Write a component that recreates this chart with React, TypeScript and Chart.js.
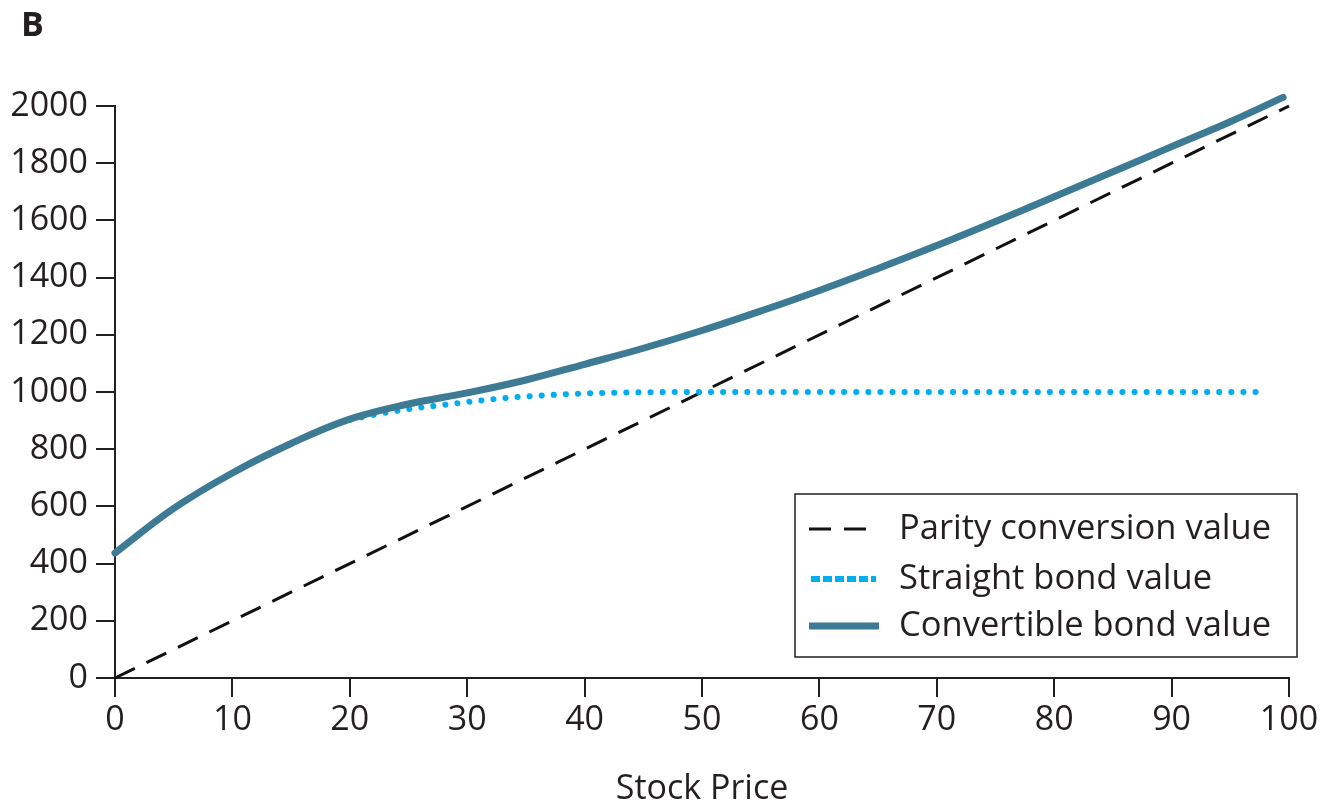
import React, { useEffect, useRef } from "react";
import { Chart, registerables } from "chart.js";

Chart.register(...registerables);

const panelLabel = "B";
const xAxisTitle = "Stock Price";
const seriesNames = ["Parity conversion value", "Straight bond value", "Convertible bond value"];

const parityPrice = [0, 100];
const parityValue = [0, 2000];

const straightPrice = [20, 22, 25, 28, 30, 33, 36, 40, 45, 50, 60, 70, 80, 90, 98];
const straightValue = [902, 920, 940, 955, 965, 978, 987, 995, 999, 1000, 1000, 1000, 1000, 1000, 1000];

const convertiblePrice = [0, 5, 10, 15, 20, 25, 30, 35, 40, 45, 50, 55, 60, 65, 70, 75, 80, 85, 90, 95, 99.5];
const convertibleValue = [437, 593, 717, 820, 905, 958, 997, 1042, 1097, 1153, 1215, 1283, 1355, 1432, 1512, 1596, 1683, 1770, 1858, 1945, 2030];

const xTicksMin = 0;
const xTicksMax = 100;
const xTickStep = 10;
const yTicksMin = 0;
const yTicksMax = 2000;
const yTickStep = 200;

const FONT = "'Open Sans', 'Noto Sans', sans-serif";
const FONT_SIZE = 34;
const TEXT = "#231f20";
const PARITY_COLOR = "#111111";
const STRAIGHT_COLOR = "#00aeef";
const CONV_COLOR = "#3d7a93";

const zip = (xs: number[], ys: number[]) => xs.map((x, i) => ({ x, y: ys[i] }));

const boxLegend = {
  id: "boxLegend",
  afterDraw(chart: any) {
    const { ctx, chartArea } = chart;
    const left = chartArea.right - 494;
    const top = chartArea.bottom - 184;
    const w = 502;
    const h = 163;
    ctx.save();
    ctx.strokeStyle = "#231f20";
    ctx.lineWidth = 1.5;
    ctx.strokeRect(left, top, w, h);
    const rows = [top + 35, top + 85, top + 132];
    const sx0 = left + 14;
    const sx1 = left + 84;
    ctx.beginPath();
    ctx.setLineDash([22, 13]);
    ctx.lineCap = "butt";
    ctx.lineWidth = 3;
    ctx.strokeStyle = PARITY_COLOR;
    ctx.moveTo(sx0, rows[0]);
    ctx.lineTo(sx1, rows[0]);
    ctx.stroke();
    ctx.beginPath();
    ctx.setLineDash([9, 3]);
    ctx.lineWidth = 6;
    ctx.strokeStyle = STRAIGHT_COLOR;
    ctx.moveTo(sx0 + 2, rows[1]);
    ctx.lineTo(sx1 - 3, rows[1]);
    ctx.stroke();
    ctx.beginPath();
    ctx.setLineDash([]);
    ctx.lineWidth = 7;
    ctx.strokeStyle = CONV_COLOR;
    ctx.moveTo(sx0, rows[2]);
    ctx.lineTo(sx1, rows[2]);
    ctx.stroke();
    ctx.fillStyle = TEXT;
    ctx.font = `${FONT_SIZE + 0.5}px ${FONT}`;
    ctx.textBaseline = "middle";
    ctx.textAlign = "left";
    seriesNames.forEach((n, i) => ctx.fillText(n, left + 104, rows[i]));
    ctx.restore();
  },
};

export default function App() {
  const ref = useRef<HTMLCanvasElement | null>(null);
  useEffect(() => {
    if (!ref.current) return;
    const chart = new Chart(ref.current, {
      type: "line",
      data: {
        datasets: [
          {
            label: seriesNames[0],
            data: zip(parityPrice, parityValue),
            borderColor: PARITY_COLOR,
            borderWidth: 3,
            borderDash: [22, 13],
            pointRadius: 0,
            clip: false,
            order: 2,
          },
          {
            label: seriesNames[1],
            data: zip(straightPrice, straightValue),
            borderColor: STRAIGHT_COLOR,
            borderWidth: 6,
            borderDash: [0.1, 12],
            borderCapStyle: "round",
            cubicInterpolationMode: "monotone",
            pointRadius: 0,
            clip: false,
            order: 1,
          },
          {
            label: seriesNames[2],
            data: zip(convertiblePrice, convertibleValue),
            borderColor: CONV_COLOR,
            borderWidth: 7,
            borderCapStyle: "round",
            tension: 0.4,
            pointRadius: 0,
            clip: false,
            order: 0,
          },
        ],
      },
      options: {
        animation: false,
        responsive: true,
        maintainAspectRatio: false,
        layout: { padding: { top: 106, right: 35, left: 0, bottom: 0 } },
        plugins: {
          legend: { display: false },
          tooltip: { enabled: false },
        },
        scales: {
          x: {
            type: "linear",
            min: xTicksMin,
            max: xTicksMax,
            ticks: {
              stepSize: xTickStep,
              color: TEXT,
              font: { family: FONT, size: FONT_SIZE },
              padding: 3,
              maxRotation: 0,
            },
            grid: { drawOnChartArea: false, drawTicks: true, tickLength: 19, color: "#231f20", lineWidth: 2 },
            border: { display: true, color: "#231f20", width: 2 },
            title: {
              display: true,
              text: xAxisTitle,
              color: TEXT,
              font: { family: FONT, size: FONT_SIZE },
              padding: { top: 10, bottom: -7 },
            },
            afterFit: (s: any) => {
              s.height = 125;
            },
          },
          y: {
            type: "linear",
            min: yTicksMin,
            max: yTicksMax,
            ticks: {
              stepSize: yTickStep,
              color: TEXT,
              font: { family: FONT, size: FONT_SIZE },
              padding: 8,
              callback: (v: any) => String(v),
            },
            grid: { drawOnChartArea: false, drawTicks: true, tickLength: 19, color: "#231f20", lineWidth: 2 },
            border: { display: true, color: "#231f20", width: 2 },
            afterFit: (s: any) => {
              s.width = 115;
            },
          },
        },
      },
      plugins: [boxLegend],
    });
    return () => chart.destroy();
  }, []);

  return (
    <div style={{ position: "absolute", left: 0, top: 0, width: 1324, height: 803, background: "#fff" }}>
      <div
        style={{
          position: "absolute",
          left: 21,
          top: 0,
          fontFamily: FONT,
          fontWeight: 700,
          fontSize: FONT_SIZE,
          lineHeight: "47px",
          color: TEXT,
        }}
      >
        {panelLabel}
      </div>
      <canvas ref={ref} />
    </div>
  );
}
